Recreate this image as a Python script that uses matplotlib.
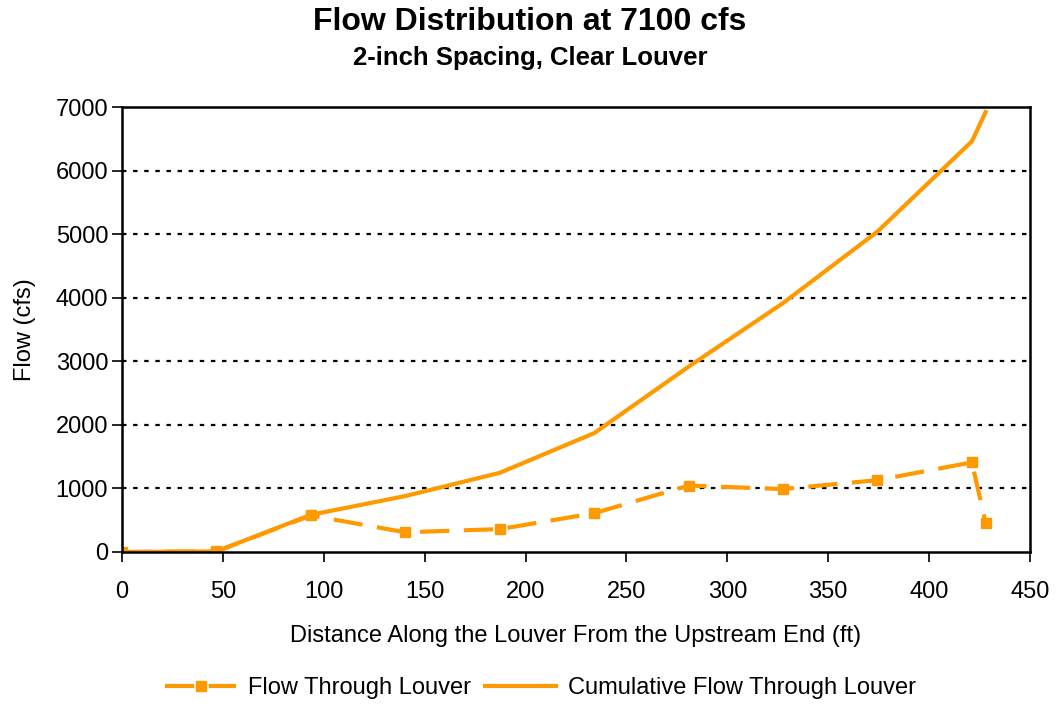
import matplotlib
matplotlib.use('Agg')
import matplotlib.pyplot as plt

plt.rcParams['font.family'] = ['Liberation Sans', 'DejaVu Sans']

# distance along the louver (ft)
distance = [0, 46.8, 93.6, 140.4, 187.2, 234.0, 280.8, 327.6, 374.4, 421.2, 428.0]
# flow through each louver section (cfs)
flow = [0, 10, 575, 310, 360, 610, 1045, 990, 1130, 1410, 460]
# running total (cfs)
cumulative = [0, 10, 585, 880, 1245, 1870, 2915, 3915, 5040, 6460, 6920]

orange = '#FF9900'

fig = plt.figure(figsize=(10.6, 7.08), dpi=100)
ax = fig.add_axes([122 / 1060, 1 - 552 / 708, 908 / 1060, 445 / 708])

ax.plot(distance, flow, color=orange, lw=3, dashes=(7, 3.5), marker='s',
        markersize=7, label='Flow Through Louver')
ax.plot(distance, cumulative, color=orange, lw=3,
        label='Cumulative Flow Through Louver')

ax.set_xlim(0, 450)
ax.set_ylim(0, 7000)
ax.set_xticks(range(0, 451, 50))
ax.set_yticks(range(0, 7001, 1000))
for y in range(1000, 7000, 1000):
    ax.axhline(y, color='black', lw=1.6, ls=(0, (2, 3)), zorder=0)

for s in ax.spines.values():
    s.set_linewidth(1.8)
ax.tick_params(direction='out', length=7, width=1.2, labelsize=17)
ax.tick_params(axis='x', pad=14)
ax.tick_params(axis='y', pad=3)

ax.set_xlabel('Distance Along the Louver From the Upstream End (ft)', fontsize=17, labelpad=16)
ax.set_ylabel('Flow (cfs)', fontsize=17, labelpad=14)

fig.text(0.5, 1 - 22 / 708, 'Flow Distribution at 7100 cfs', ha='center', va='center',
         fontsize=23, fontweight='bold')
fig.text(0.5, 1 - 58 / 708, '2-inch Spacing, Clear Louver', ha='center', va='center',
         fontsize=18.5, fontweight='bold')

fig.legend(loc='center', bbox_to_anchor=(0.51, 1 - 688 / 708), ncol=2, frameon=False,
           fontsize=17, handlelength=3, columnspacing=0.6, handletextpad=0.5)

fig.savefig('out.png', dpi=100)
